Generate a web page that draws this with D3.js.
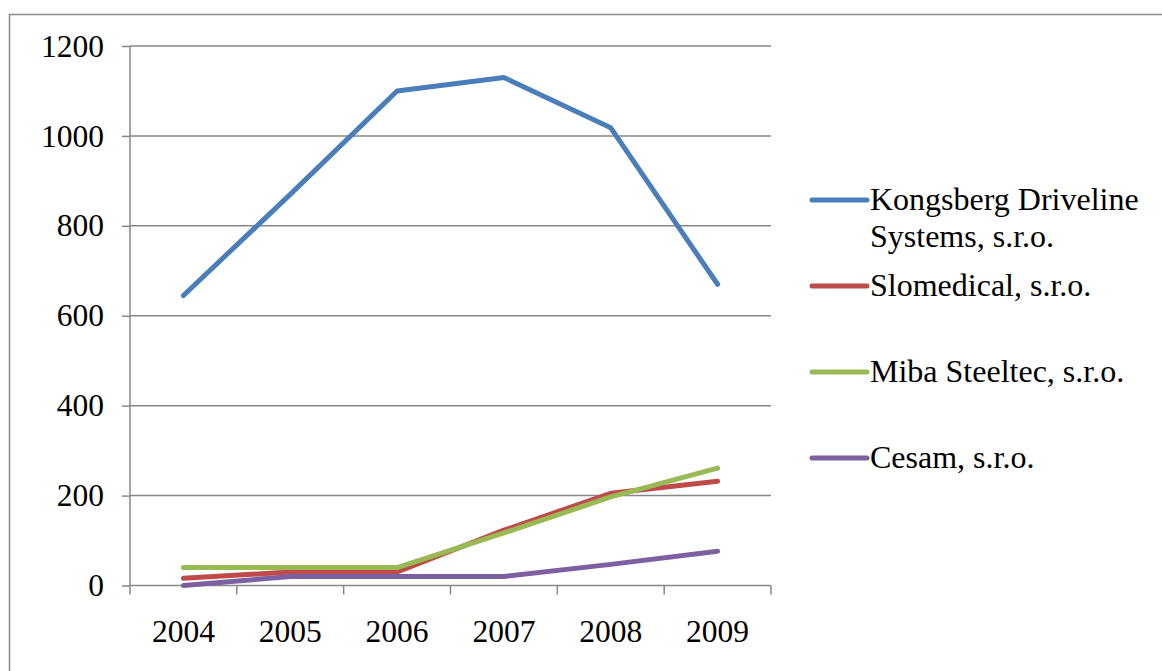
<!DOCTYPE html>
<html>
<head>
<meta charset="utf-8">
<script src="https://cdn.jsdelivr.net/npm/d3@7"></script>
<style>
  body { margin: 0; background: #fff; }
  svg text { font-family: "Liberation Serif", "Times New Roman", serif; fill: #000; }
</style>
</head>
<body>
<svg id="chart" width="1162" height="671"></svg>
<script>
var years = ["2004", "2005", "2006", "2007", "2008", "2009"];
var kongsberg = [645, 870, 1100, 1130, 1018, 670];
var slomedical = [16, 30, 30, 123, 205, 232];
var miba = [40, 40, 40, 117, 197, 261];
var cesam = [0, 20, 20, 20, 47, 76];
var seriesNames = [["Kongsberg Driveline", "Systems, s.r.o."], ["Slomedical, s.r.o."], ["Miba Steeltec, s.r.o."], ["Cesam, s.r.o."]];
var seriesColors = ["#4a7ebb", "#be4b48", "#98b954", "#7d60a0"];
var yTicks = [0, 200, 400, 600, 800, 1000, 1200];

var allSeries = [kongsberg, slomedical, miba, cesam];

var svg = d3.select("#chart");
var plot = { left: 130, right: 771, top: 46, bottom: 585.5 };

// outer chart border
svg.append("rect")
  .attr("x", 9.5).attr("y", 14.5)
  .attr("width", 1160).attr("height", 670)
  .attr("fill", "none").attr("stroke", "#8c8c8c").attr("stroke-width", 1.5);

var x = d3.scaleBand().domain(years).range([plot.left, plot.right]);
var y = d3.scaleLinear().domain([0, 1200]).range([plot.bottom, plot.top]);

// gridlines
svg.append("g").selectAll("line")
  .data(yTicks.filter(function(d){ return d > 0; }))
  .enter().append("line")
    .attr("x1", plot.left).attr("x2", plot.right)
    .attr("y1", function(d){ return y(d); })
    .attr("y2", function(d){ return y(d); })
    .attr("stroke", "#868686").attr("stroke-width", 1.5);

var yAxis = svg.append("g")
  .attr("transform", "translate(" + plot.left + ",0)")
  .call(d3.axisLeft(y).tickValues(yTicks).tickSize(8).tickPadding(18).tickFormat(d3.format("d")));
yAxis.selectAll("line, path").attr("stroke", "#868686").attr("stroke-width", 1.5);
yAxis.select(".domain").attr("d", "M0," + plot.top + "V" + plot.bottom);
yAxis.selectAll("text").attr("font-size", "31.5px").attr("font-family", "Liberation Serif");

var xAxis = svg.append("g")
  .attr("transform", "translate(0," + plot.bottom + ")")
  .call(d3.axisBottom(x).tickSize(0).tickPadding(34));
xAxis.select(".domain").attr("stroke", "#868686").attr("stroke-width", 1.5)
  .attr("d", "M" + plot.left + ",0H" + plot.right);
xAxis.selectAll("text").attr("font-size", "31.5px").attr("font-family", "Liberation Serif");

// category boundary ticks
var bounds = years.map(function(d){ return x(d); }).concat([plot.right]);
svg.append("g").selectAll("line")
  .data(bounds).enter().append("line")
    .attr("x1", function(d){ return d; }).attr("x2", function(d){ return d; })
    .attr("y1", plot.bottom).attr("y2", plot.bottom + 9)
    .attr("stroke", "#868686").attr("stroke-width", 1.5);

var line = d3.line()
  .x(function(d, i){ return x(years[i]) + x.bandwidth() / 2; })
  .y(function(d){ return y(d); });

svg.append("g").selectAll("path")
  .data(allSeries).enter().append("path")
    .attr("d", line)
    .attr("fill", "none")
    .attr("stroke", function(d, i){ return seriesColors[i]; })
    .attr("stroke-width", 5)
    .attr("stroke-linecap", "round")
    .attr("stroke-linejoin", "round");

// legend
var legendY = [200, 286, 372, 458];
var lg = svg.append("g").selectAll("g")
  .data(seriesNames).enter().append("g")
    .attr("transform", function(d, i){ return "translate(812," + legendY[i] + ")"; });
lg.append("line")
  .attr("x1", 0).attr("x2", 55)
  .attr("stroke", function(d, i){ return seriesColors[i]; })
  .attr("stroke-width", 5).attr("stroke-linecap", "round");
lg.append("text")
  .attr("x", 58).attr("y", 10)
  .attr("font-size", "32px")
  .selectAll("tspan").data(function(d){ return d; }).enter().append("tspan")
    .attr("x", 58).attr("dy", function(d, i){ return i === 0 ? 0 : 37; })
    .text(function(d){ return d; });
</script>
</body>
</html>
